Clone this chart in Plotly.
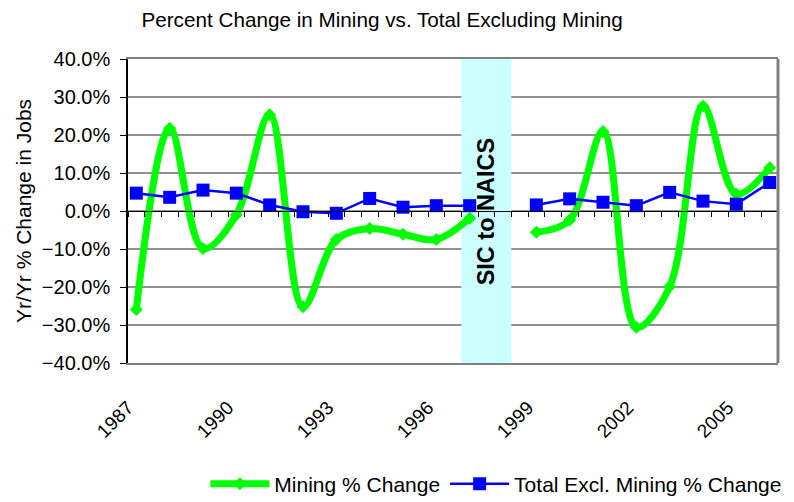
import plotly.graph_objects as go

# Year-over-year % change in jobs; 1998 left empty (SIC -> NAICS break)
YEARS = list(range(1987, 2007))
MINING = [-25.9, 21.8, -9.9, -1.0, 25.3, -25.2, -7.5, -4.6, -6.1, -7.5,
          -1.9, None, -5.6, -2.4, 20.9, -30.6, -19.9, 27.6, 4.5, 11.4]
TOTAL_EXCL = [4.7, 3.6, 5.5, 4.7, 1.6, -0.2, -0.6, 3.3, 1.0, 1.4,
              1.4, None, 1.6, 3.2, 2.3, 1.4, 4.9, 2.6, 1.8, 7.5]
TICK_YEARS = [1987, 1990, 1993, 1996, 1999, 2002, 2005]
BREAK_LABEL = "SIC to NAICS"
BREAK_SPAN = (1996.75, 1998.25)

FONT = "Arial, Liberation Sans, sans-serif"
X_RANGE = [1986.75, 2006.25]
Y_RANGE = [-40, 40]
slot_edges = [1986.75 + 0.5 * i for i in range(40)]

fig = go.Figure()
fig.add_trace(go.Scatter(
    x=YEARS, y=MINING, name="Mining % Change", mode="lines+markers",
    line=dict(color="#00FF00", width=7, shape="spline", smoothing=1.0),
    marker=dict(symbol="diamond", size=10, color="#00FF00"),
    connectgaps=False,
))
# second series sits on the overlay axis that carries the zero-line ticks
fig.add_trace(go.Scatter(
    x=YEARS, y=TOTAL_EXCL, name="Total Excl. Mining % Change", mode="lines+markers",
    line=dict(color="#0000FF", width=2.5),
    marker=dict(symbol="square", size=13, color="#0000FF"),
    connectgaps=False, xaxis="x2",
))

# gridlines as shapes so the break band can cover them
for g in range(Y_RANGE[0] + 10, Y_RANGE[1], 10):
    fig.add_shape(type="line", xref="x domain", yref="y", x0=0, x1=1, y0=g, y1=g,
                  line=dict(color="#222222", width=1), layer="below")
fig.add_shape(type="rect", xref="x", yref="y domain", x0=BREAK_SPAN[0], x1=BREAK_SPAN[1],
              y0=0, y1=1, fillcolor="#CCFFFF", line_width=0, layer="below")
fig.add_shape(type="line", xref="x domain", yref="y domain", x0=1, x1=1, y0=0, y1=1,
              line=dict(color="#808080", width=3))

fig.add_annotation(x=sum(BREAK_SPAN) / 2, y=0, text="<b>" + BREAK_LABEL + "</b>", textangle=-90,
                   showarrow=False, font=dict(family=FONT, size=23.5, color="black"))
fig.add_annotation(x=-0.1615, y=0.5, xref="paper", yref="paper", xanchor="center", yanchor="middle",
                   text="Yr/Yr % Change in Jobs", textangle=-90, showarrow=False,
                   font=dict(family=FONT, size=21, color="black"))

# page body adds an 8px offset, so the figure is 8px smaller than the window
fig.update_layout(
    width=786, height=494,
    margin=dict(l=120, r=16, t=51, b=139, autoexpand=False),
    paper_bgcolor="white", plot_bgcolor="white",
    font=dict(family=FONT, color="black"),
    title=dict(text="Percent Change in Mining vs. Total Excluding Mining", x=0.476, xanchor="center",
               y=0.99, yanchor="top", font=dict(size=20.7)),
    xaxis=dict(
        range=X_RANGE, tickvals=[y - 0.25 for y in TICK_YEARS], ticktext=[str(y) for y in TICK_YEARS],
        tickangle=-45, tickfont=dict(size=19), ticks="outside", ticklen=24, tickcolor="rgba(0,0,0,0)",
        showgrid=False, zeroline=False, showline=True, linecolor="#808080", linewidth=2, mirror=True,
    ),
    xaxis2=dict(
        overlaying="x", anchor="free", position=0.5, range=X_RANGE, tickvals=slot_edges,
        showticklabels=False, ticks="outside", ticklen=5, tickcolor="black",
        showgrid=False, zeroline=False, showline=True, linecolor="black", linewidth=1,
    ),
    yaxis=dict(
        range=Y_RANGE, dtick=10, tickformat=".1f", ticksuffix="%", tickfont=dict(size=20),
        ticks="outside", ticklen=6, tickcolor="black", ticklabelstandoff=6,
        showgrid=False, zeroline=False,
        showline=True, linecolor="black", linewidth=1.5,
    ),
    legend=dict(orientation="h", x=0.119, xanchor="left", y=-0.398, yanchor="middle",
                font=dict(size=21), itemwidth=59, bgcolor="rgba(0,0,0,0)"),
    showlegend=True,
)

fig.write_html("out.html")
